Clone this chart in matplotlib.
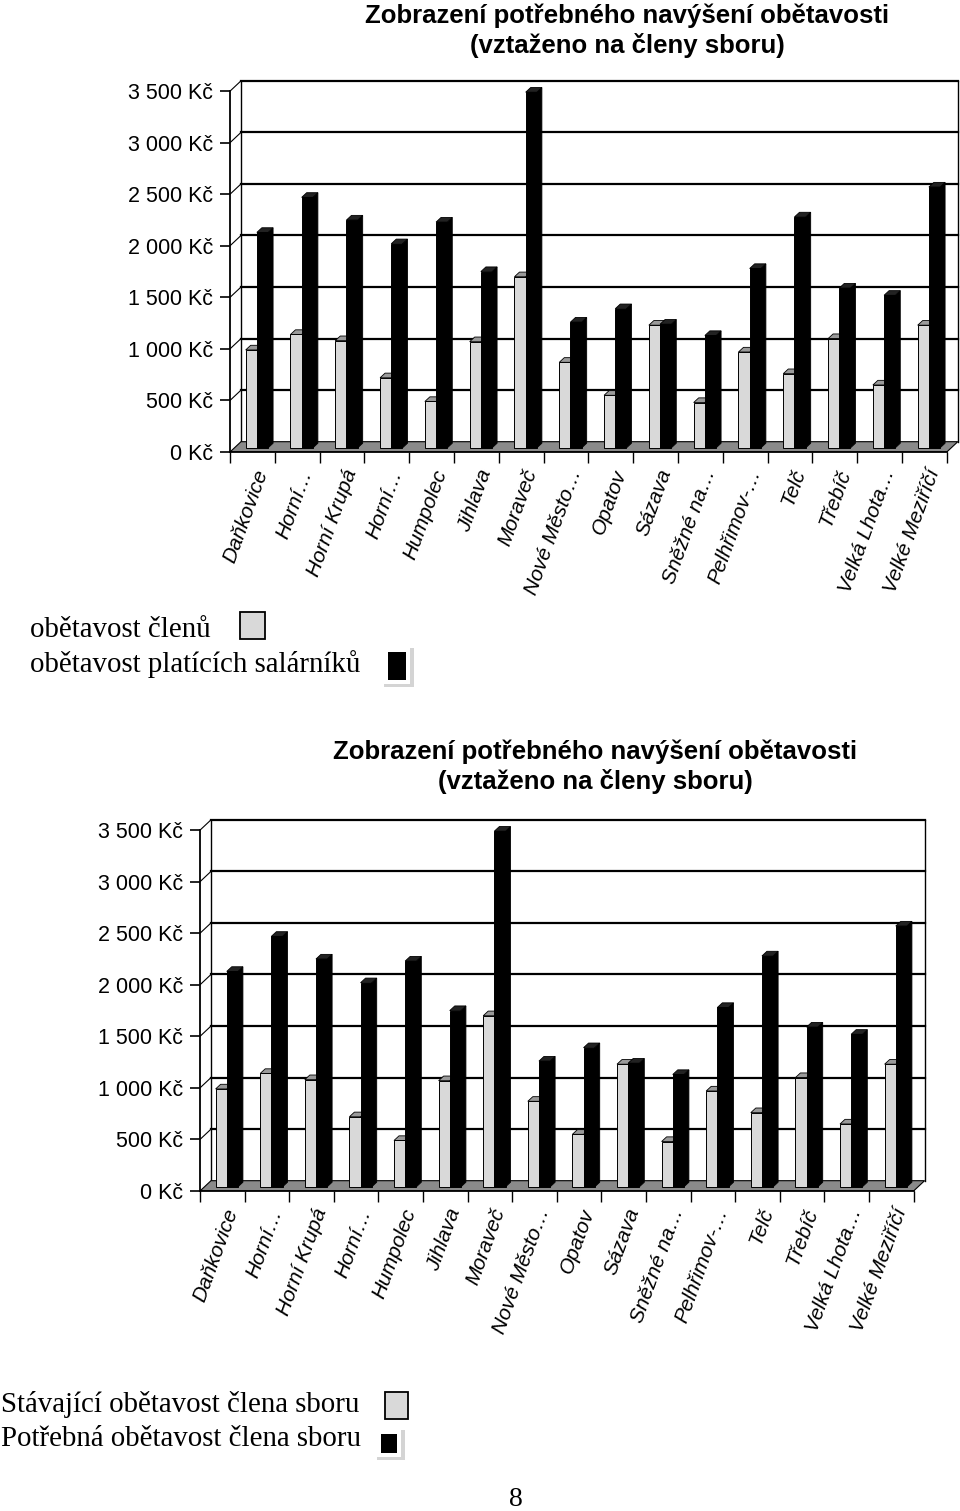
import matplotlib
matplotlib.use("Agg")
import matplotlib.pyplot as plt
from matplotlib.patches import Polygon, Rectangle
from matplotlib import transforms

# ---------------------------------------------------------------------------
# Data (Kč per member)
# ---------------------------------------------------------------------------
categories = ["Daňkovice", "Horní…", "Horní Krupá", "Horní…", "Humpolec",
              "Jihlava", "Moraveč", "Nové Město…", "Opatov", "Sázava",
              "Sněžné na…", "Pelhřimov-…", "Telč", "Třebíč",
              "Velká Lhota…", "Velké Meziříčí"]
current = [950, 1100, 1040, 680, 450, 1030, 1660, 830, 510, 1190,
           440, 930, 720, 1060, 610, 1190]
needed = [2090, 2430, 2210, 1980, 2190, 1710, 3450, 1220, 1350, 1200,
          1090, 1740, 2240, 1550, 1480, 2530]
y_ticks = [0, 500, 1000, 1500, 2000, 2500, 3000, 3500]
y_labels = ["0 Kč", "500 Kč", "1 000 Kč", "1 500 Kč", "2 000 Kč",
            "2 500 Kč", "3 000 Kč", "3 500 Kč"]

title = "Zobrazení potřebného navýšení obětavosti\n(vztaženo na členy sboru)"
legend_top = ["obětavost členů", "obětavost platících salárníků"]
legend_bottom = ["Stávající obětavost člena sboru", "Potřebná obětavost člena sboru"]

W, H = 960, 1511
GREY = "#d9d9d9"
FLOOR = "#8a8a8a"

fig = plt.figure(figsize=(W / 100, H / 100), dpi=100)
fig.patch.set_facecolor("white")


def px_rect(left, zero_y, width, height):
    return [left / W, (H - zero_y) / H, width / W, height / H]


def draw_chart(left, zero_y, px_unit, title_x, title_y):
    n = len(categories)
    px_kc = 0.1031
    xmax, ymax = n + 0.3, 3700
    ax = fig.add_axes(px_rect(left, zero_y, xmax * px_unit, ymax * px_kc))
    ax.set_xlim(0, xmax)
    ax.set_ylim(0, ymax)
    for s in ["top", "right", "bottom"]:
        ax.spines[s].set_visible(False)
    ax.spines["left"].set_bounds(0, 3500)
    ax.spines["left"].set_linewidth(1.3)

    dx, dy = 11 / px_unit, 100   # wall depth

    # back wall gridlines and frame
    for v in y_ticks[1:]:
        ax.plot([dx, n + dx], [v + dy, v + dy], color="black", lw=1.6, zorder=1)
        ax.plot([0, dx], [v, v + dy], color="black", lw=0.8, zorder=1)
    ax.plot([dx, dx], [dy, 3500 + dy], color="black", lw=1.0, zorder=1)
    ax.plot([n + dx, n + dx], [dy, 3500 + dy], color="black", lw=1.0, zorder=1)

    # floor
    ax.add_patch(Polygon([(0, 0), (n, 0), (n + dx, dy), (dx, dy)],
                         closed=True, facecolor=FLOOR, edgecolor="black",
                         lw=0.8, zorder=2))
    ax.plot([0, n], [0, 0], color="black", lw=1.3, zorder=2, clip_on=False)

    # bars
    ox, oy = 0.08, 40
    bx, by = 5 / px_unit, 45
    w = 0.25
    for i in range(n):
        for j, (val, face, top_c, side_c) in enumerate(
                [(current[i], GREY, "#9a9a9a", "#b5b5b5"),
                 (needed[i], "black", "#222222", "black")]):
            x0 = i + 0.27 + ox + j * w
            top = oy + val
            ax.add_patch(Polygon([(x0 + w, oy), (x0 + w + bx, oy + by),
                                  (x0 + w + bx, top + by), (x0 + w, top)],
                                 closed=True, facecolor=side_c,
                                 edgecolor="black", lw=0.6, zorder=3 + j))
            ax.add_patch(Polygon([(x0, top), (x0 + w, top),
                                  (x0 + w + bx, top + by), (x0 + bx, top + by)],
                                 closed=True, facecolor=top_c,
                                 edgecolor="black", lw=0.6, zorder=3 + j))
            ax.add_patch(Rectangle((x0, oy), w, val, facecolor=face,
                                   edgecolor="black", lw=0.7, zorder=3 + j))

    # axes ticks
    ax.set_yticks(y_ticks)
    ax.set_yticklabels(y_labels, family="Liberation Sans", fontsize=15.5)
    ax.tick_params(axis="y", length=7, width=1.2, pad=5)
    ax.set_xticks(range(n + 1))
    ax.set_xticklabels([])
    ax.tick_params(axis="x", length=8, width=1.0, direction="out")

    off = transforms.offset_copy(ax.transData, fig=fig, x=10, y=-18, units="dots")
    for i, name in enumerate(categories):
        ax.text(i + 0.5, 0, name, transform=off, rotation=70,
                rotation_mode="anchor", ha="right", va="center",
                family="Liberation Sans", fontsize=15, fontstyle="italic")

    fig.text(title_x / W, 1 - title_y / H, title, ha="center", va="top",
             family="Liberation Sans", fontweight="bold", fontsize=18.5,
             linespacing=1.28)
    return ax


draw_chart(230, 452, 44.8, 627, 3)
draw_chart(200, 1191, 44.6, 595, 739)

# ---- legends ---------------------------------------------------------------
serif = "Liberation Serif"


def legend_box(x0, y0, x1, y1, dark):
    if dark:
        fig.patches.append(Rectangle((x0 / W, 1 - (y1 + 3) / H), (x1 - x0 + 4) / W,
                                     (y1 - y0 + 3) / H, transform=fig.transFigure,
                                     facecolor="#d4d4d4", edgecolor="none"))
        fig.patches.append(Rectangle((x0 / W, 1 - y1 / H), (x1 - x0) / W,
                                     (y1 - y0) / H, transform=fig.transFigure,
                                     facecolor="white", edgecolor="none"))
        fig.patches.append(Rectangle(((x0 + 4) / W, 1 - (y1 - 4) / H),
                                     (x1 - x0 - 8) / W, (y1 - y0 - 8) / H,
                                     transform=fig.transFigure,
                                     facecolor="black", edgecolor="none"))
    else:
        fig.patches.append(Rectangle((x0 / W, 1 - y1 / H), (x1 - x0) / W,
                                     (y1 - y0) / H, transform=fig.transFigure,
                                     facecolor=GREY, edgecolor="black", lw=1.3))


fig.text(30 / W, 1 - 630 / H, legend_top[0], family=serif, fontsize=20.8, va="center")
fig.text(30 / W, 1 - 664 / H, legend_top[1], family=serif, fontsize=20.8, va="center")
legend_box(240, 612, 265, 639, False)
legend_box(384, 648, 410, 684, True)

fig.text(1 / W, 1 - 1405 / H, legend_bottom[0], family=serif, fontsize=20.8, va="center")
fig.text(1 / W, 1 - 1439 / H, legend_bottom[1], family=serif, fontsize=20.8, va="center")
legend_box(385, 1392, 408, 1419, False)
legend_box(377, 1430, 401, 1457, True)

fig.text(516 / W, 1 - 1500 / H, "8", family=serif, fontsize=20, ha="center", va="center")

fig.savefig("out.png", dpi=100, facecolor="white")
